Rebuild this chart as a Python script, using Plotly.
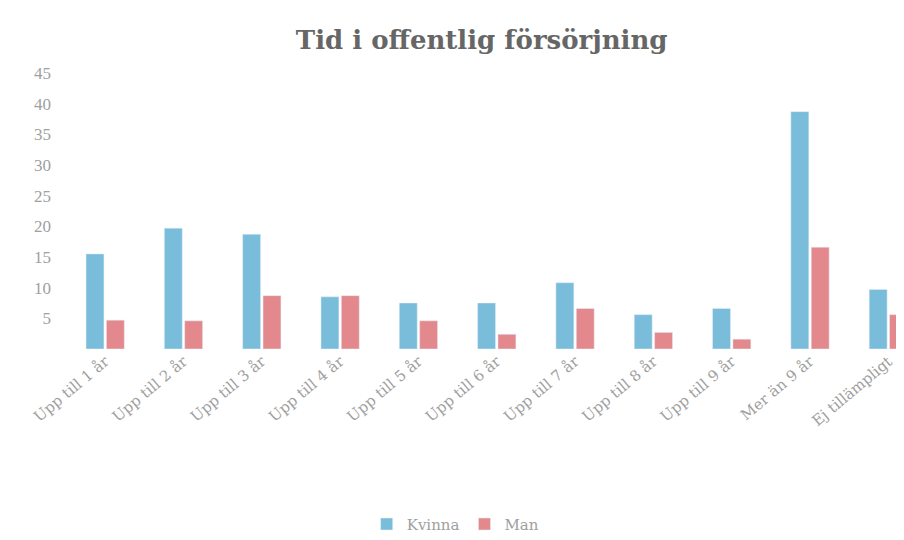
import plotly.graph_objects as go

kategorier = ["Upp till 1 år", "Upp till 2 år", "Upp till 3 år", "Upp till 4 år",
              "Upp till 5 år", "Upp till 6 år", "Upp till 7 år", "Upp till 8 år",
              "Upp till 9 år", "Mer än 9 år", "Ej tillämpligt"]
kvinna = [15.5, 19.7, 18.7, 8.5, 7.5, 7.5, 10.8, 5.6, 6.6, 38.7, 9.7]
man = [4.7, 4.6, 8.7, 8.7, 4.6, 2.4, 6.6, 2.7, 1.6, 16.6, 5.6]
y_ticks = [5, 10, 15, 20, 25, 30, 35, 40, 45]

FONT = "DejaVu Serif"
GRA = "#a0a0a0"

fig = go.Figure()
fig.add_bar(x=kategorier, y=kvinna, name="Kvinna", marker_color="#79bddb")
fig.add_bar(x=kategorier, y=man, name="Man", marker_color="#e3898d")

fig.update_layout(
    width=904, height=540,
    paper_bgcolor="white", plot_bgcolor="white",
    margin=dict(l=58, r=8, t=65, b=195),
    title=dict(text="<b>Tid i offentlig försörjning</b>", x=0.524, xanchor="center",
               y=0.941, yanchor="middle",
               font=dict(family=FONT, size=26, color="#666666")),
    barmode="group", bargap=0.48, bargroupgap=0.12,
    font=dict(family=FONT, color=GRA),
    legend=dict(orientation="h", x=0.465, xanchor="center", y=-0.635, yanchor="middle",
                font=dict(family=FONT, size=15, color=GRA)),
    showlegend=True,
)
fig.update_xaxes(range=[-0.5, 10.2], tickangle=-40, showline=False, showgrid=False,
                 ticks="", automargin=False,
                 tickfont=dict(family=FONT, size=15, color=GRA))
fig.update_yaxes(range=[0, 45], tickvals=y_ticks, showgrid=False, showline=False,
                 zeroline=False, ticks="", ticklabelstandoff=14, automargin=False,
                 tickfont=dict(family="Liberation Serif", size=17, color=GRA))

fig.write_html("out.html")
